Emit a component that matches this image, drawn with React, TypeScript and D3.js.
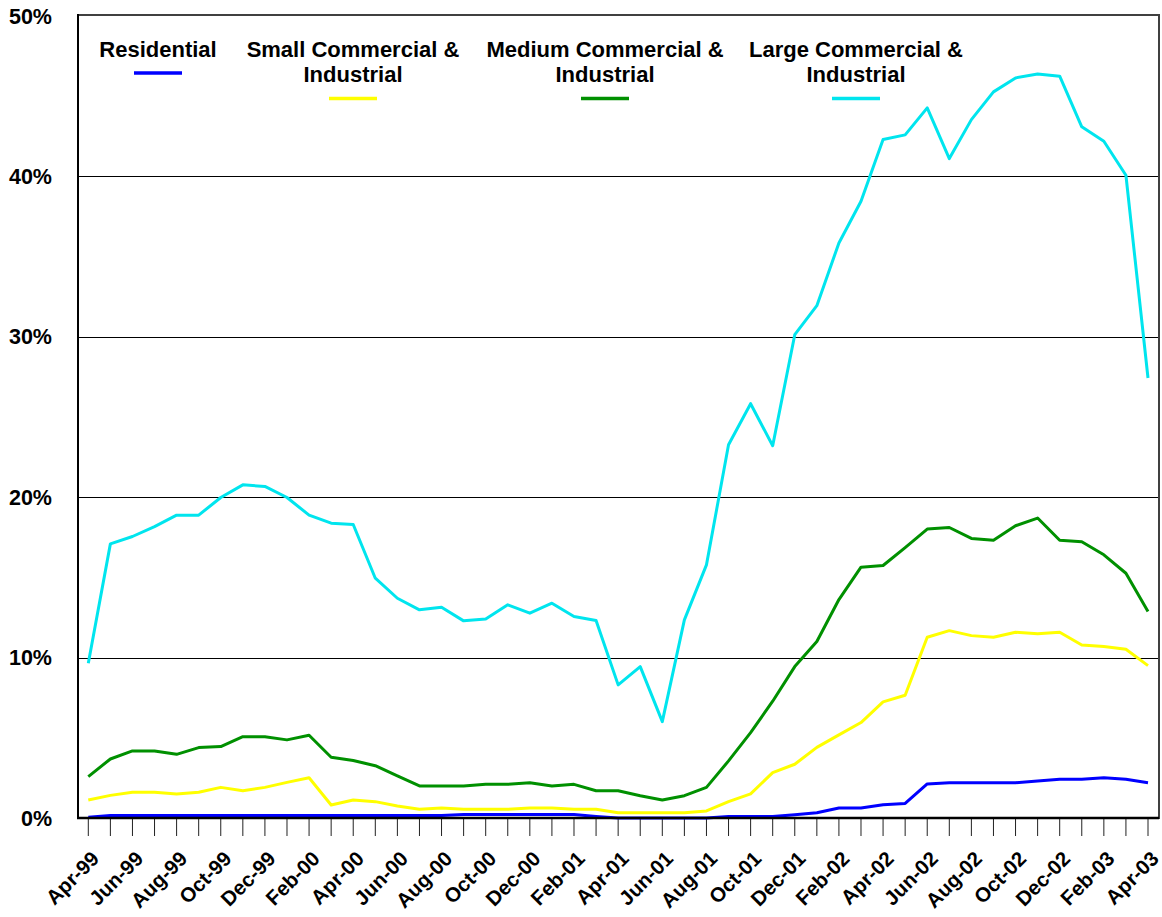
import React, { useEffect, useRef } from "react";
import * as d3 from "d3";

const months = [
  "Apr-99", "May-99", "Jun-99", "Jul-99", "Aug-99", "Sep-99", "Oct-99", "Nov-99", "Dec-99",
  "Jan-00", "Feb-00", "Mar-00", "Apr-00", "May-00", "Jun-00", "Jul-00", "Aug-00", "Sep-00",
  "Oct-00", "Nov-00", "Dec-00", "Jan-01", "Feb-01", "Mar-01", "Apr-01", "May-01", "Jun-01",
  "Jul-01", "Aug-01", "Sep-01", "Oct-01", "Nov-01", "Dec-01", "Jan-02", "Feb-02", "Mar-02",
  "Apr-02", "May-02", "Jun-02", "Jul-02", "Aug-02", "Sep-02", "Oct-02", "Nov-02", "Dec-02",
  "Jan-03", "Feb-03", "Mar-03", "Apr-03",
];

const residential = [
  0.05, 0.15, 0.15, 0.15, 0.15, 0.15, 0.15, 0.15, 0.15, 0.15, 0.15, 0.15, 0.15, 0.15, 0.15, 0.15, 0.15,
  0.22, 0.22, 0.22, 0.22, 0.22, 0.22, 0.1, 0.0, 0.0, 0.0, 0.0, 0.0, 0.1, 0.1, 0.1, 0.2, 0.33,
  0.62, 0.62, 0.83, 0.91, 2.12, 2.2, 2.2, 2.2, 2.2, 2.31, 2.41, 2.41, 2.51, 2.41, 2.2,
];

const smallCI = [
  1.12, 1.41, 1.6, 1.6, 1.5, 1.6, 1.91, 1.7, 1.91, 2.22, 2.51, 0.81, 1.12, 1.02, 0.75, 0.54, 0.62,
  0.54, 0.54, 0.54, 0.62, 0.62, 0.54, 0.54, 0.33, 0.33, 0.33, 0.33, 0.44, 1.02, 1.5, 2.83, 3.35,
  4.4, 5.18, 5.95, 7.24, 7.65, 11.27, 11.68, 11.37, 11.27, 11.58, 11.48, 11.58, 10.79, 10.69, 10.52, 9.5,
];

const mediumCI = [
  2.58, 3.68, 4.18, 4.18, 3.97, 4.39, 4.45, 5.07, 5.07, 4.87, 5.16, 3.79, 3.58, 3.26, 2.62, 2.0, 2.0,
  2.0, 2.1, 2.1, 2.2, 2.0, 2.1, 1.7, 1.7, 1.39, 1.12, 1.39, 1.91, 3.56, 5.32, 7.28, 9.44, 11.0,
  13.62, 15.64, 15.74, 16.86, 18.01, 18.11, 17.43, 17.32, 18.22, 18.7, 17.32, 17.22, 16.41, 15.26, 12.87,
];

const largeCI = [
  9.65, 17.09, 17.55, 18.17, 18.88, 18.88, 19.98, 20.77, 20.67, 19.98, 18.88, 18.38, 18.3, 14.95, 13.7,
  12.98, 13.14, 12.29, 12.4, 13.29, 12.77, 13.39, 12.56, 12.31, 8.3, 9.44, 6.01, 12.35, 15.78, 23.27,
  25.83, 23.21, 30.13, 31.94, 35.85, 38.45, 42.3, 42.59, 44.27, 41.11, 43.54, 45.27, 46.14, 46.39,
  46.25, 43.09, 42.19, 40.07, 27.43,
];

const yTicks = [0, 10, 20, 30, 40, 50];

const series = [
  { name: ["Residential"], values: residential, color: "#0000ff" },
  { name: ["Small Commercial &", "Industrial"], values: smallCI, color: "#ffff00" },
  { name: ["Medium Commercial &", "Industrial"], values: mediumCI, color: "#009000" },
  { name: ["Large Commercial &", "Industrial"], values: largeCI, color: "#00e5ee" },
];

const legendCenters = [158, 353, 605, 856];

const App = () => {
  const svgRef = useRef(null);

  useEffect(() => {
    const svg = d3.select(svgRef.current);
    svg.selectAll("*").remove();

    const left = 78;
    const right = 1159;
    const top = 16;
    const bottom = 818;
    const font = "'Liberation Sans', Arial, sans-serif";

    const x = d3.scalePoint().domain(months).range([88.3, 1148]);
    const y = d3.scaleLinear().domain([0, 50]).range([bottom, top]);

    // gridlines
    svg
      .append("g")
      .selectAll("line")
      .data(yTicks.filter((t) => t > 0 && t < 50))
      .join("line")
      .attr("x1", left)
      .attr("x2", right)
      .attr("y1", (d) => Math.round(y(d)) + 0.5)
      .attr("y2", (d) => Math.round(y(d)) + 0.5)
      .attr("stroke", "#000")
      .attr("stroke-width", 1);

    // frame
    svg
      .append("rect")
      .attr("x", left)
      .attr("y", top - 1)
      .attr("width", right - left)
      .attr("height", bottom - top + 1)
      .attr("fill", "none")
      .attr("stroke", "#404040")
      .attr("stroke-width", 2);

    // y axis labels
    svg
      .append("g")
      .selectAll("text")
      .data(yTicks)
      .join("text")
      .attr("x", 52)
      .attr("y", (d) => y(d) + 7.5)
      .attr("text-anchor", "end")
      .attr("font-family", font)
      .attr("font-weight", "bold")
      .attr("font-size", 21.5)
      .text((d) => d + "%");

    // x ticks
    svg
      .append("g")
      .selectAll("line")
      .data(months)
      .join("line")
      .attr("x1", (d) => x(d))
      .attr("x2", (d) => x(d))
      .attr("y1", bottom)
      .attr("y2", bottom + 18)
      .attr("stroke", "#222")
      .attr("stroke-width", 1);

    svg
      .append("g")
      .selectAll("text")
      .data(months.filter((d, i) => i % 2 === 0))
      .join("text")
      .attr("transform", (d) => `translate(${x(d) + 12},${bottom + 42}) rotate(-45)`)
      .attr("text-anchor", "end")
      .attr("font-family", font)
      .attr("font-weight", "bold")
      .attr("font-size", 20.5)
      .text((d) => d);

    // lines
    const line = d3
      .line()
      .x((d, i) => x(months[i]))
      .y((d) => y(d));

    svg
      .append("g")
      .selectAll("path")
      .data(series)
      .join("path")
      .attr("d", (s) => line(s.values))
      .attr("fill", "none")
      .attr("stroke", (s) => s.color)
      .attr("stroke-width", 3)
      .attr("stroke-linejoin", "round");

    // axes lines on top
    svg
      .append("line")
      .attr("x1", left - 1)
      .attr("x2", right)
      .attr("y1", bottom)
      .attr("y2", bottom)
      .attr("stroke", "#000")
      .attr("stroke-width", 2.5);
    svg
      .append("line")
      .attr("x1", left)
      .attr("x2", left)
      .attr("y1", top - 2)
      .attr("y2", bottom)
      .attr("stroke", "#000")
      .attr("stroke-width", 2);

    // legend
    const legend = svg
      .append("g")
      .selectAll("g")
      .data(series)
      .join("g")
      .attr("transform", (s, i) => `translate(${legendCenters[i]},0)`);

    legend
      .append("text")
      .attr("text-anchor", "middle")
      .attr("font-family", font)
      .attr("font-weight", "bold")
      .attr("font-size", 22)
      .selectAll("tspan")
      .data((s) => s.name)
      .join("tspan")
      .attr("x", 0)
      .attr("y", (d, i) => 56.5 + i * 25.5)
      .text((d) => d);

    legend
      .append("line")
      .attr("x1", -24)
      .attr("x2", 24)
      .attr("y1", (s) => (s.name.length > 1 ? 98.5 : 73))
      .attr("y2", (s) => (s.name.length > 1 ? 98.5 : 73))
      .attr("stroke", (s) => s.color)
      .attr("stroke-width", 3.5);
  }, []);

  return (
    <svg
      ref={svgRef}
      width={1162}
      height={917}
      style={{ position: "absolute", left: 0, top: 0, background: "#fff" }}
    ></svg>
  );
};

export default App;
